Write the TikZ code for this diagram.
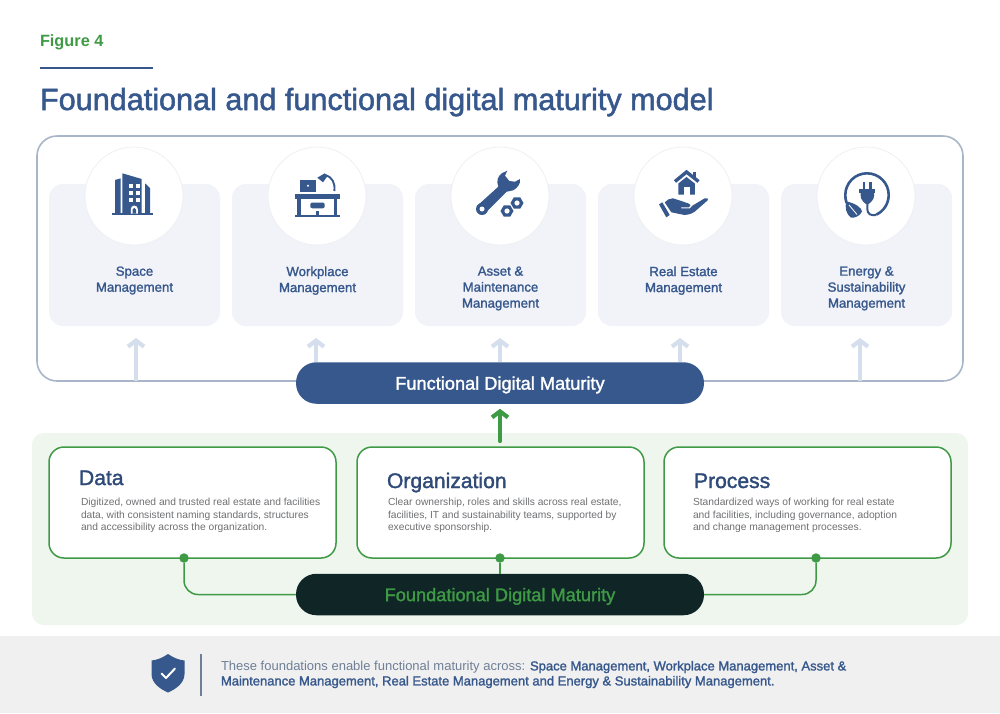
\documentclass[tikz,border=0pt]{standalone}
\usepackage{fontspec}
\setmainfont{Liberation Sans}
\newfontfamily\medfont[FakeBold=1.6]{Liberation Sans}
\usetikzlibrary{arrows.meta}
\definecolor{navy}{HTML}{37588C}
\definecolor{inktitle}{HTML}{2F4A78}
\definecolor{frameblue}{HTML}{A9B6C9}
\definecolor{cardbg}{HTML}{F2F3F9}
\definecolor{ringgray}{HTML}{EEF0F3}
\definecolor{arrowpale}{HTML}{D5DEEC}
\definecolor{leaf}{HTML}{3F9A45}
\definecolor{panelgreen}{HTML}{EEF6EE}
\definecolor{darkpill}{HTML}{0F2526}
\definecolor{bandgray}{HTML}{F0F0F1}
\definecolor{bodygray}{HTML}{6F7073}
\definecolor{notegray}{HTML}{6F7F96}
\tikzset{
  x=1pt,y=-1pt,
  every node/.style={inner sep=0pt,outer sep=0pt},
  cardbox/.style={rectangle,fill=cardbg,rounded corners=14pt,minimum width=171pt,minimum height=142pt},
  iconring/.style={circle,fill=white,draw=ringgray,line width=0.8pt,minimum size=98pt},
  cardlabel/.style={font=\fontsize{13.2}{16}\selectfont\medfont,text=navy,align=center,anchor=north},
  pillbox/.style={rectangle,rounded corners=20.5pt,minimum width=408pt,minimum height=41.5pt,text depth=0pt,font=\fontsize{18.2}{20}\selectfont\medfont},
  greenbox/.style={rectangle,draw=leaf,line width=1.5pt,fill=white,rounded corners=15pt,minimum width=287pt,minimum height=111pt},
  boxhead/.style={font=\fontsize{21.1}{24}\selectfont\medfont,text=inktitle,anchor=base west},
  boxbody/.style={font=\fontsize{10.25}{12.3}\selectfont,text=bodygray,align=left,anchor=north west},
  palearrow/.style={draw=arrowpale,line width=4.2pt,-{Straight Barb[length=6pt,width=16pt]}},
  greenarrow/.style={draw=leaf,line width=4.2pt,line cap=round,-{Straight Barb[length=6pt,width=16pt]}},
  wire/.style={draw=leaf,line width=1.5pt,rounded corners=14pt},
  greendot/.style={circle,fill=leaf,minimum size=9.5pt},
  icon/.style={fill=navy,draw=none},
  iconline/.style={draw=navy,fill=none}
}
\begin{document}
\begin{tikzpicture}
\useasboundingbox (0,0) rectangle (1000,713);
\fill[white] (0,0) rectangle (1000,713);
% header
\node[font=\fontsize{16.3}{19}\selectfont\bfseries,text=leaf,anchor=base west] (fig) at (40,46) {Figure 4};
\coordinate (ruleA) at (40,68);
\coordinate (ruleB) at (153,68);
\draw[navy,line width=1.6pt] (ruleA) -- (ruleB);
\node[font=\fontsize{30.6}{34}\selectfont\medfont,text=navy,anchor=base west] (title) at (40,110) {Foundational and functional digital maturity model};
% functional frame
\node[rectangle,draw=frameblue,line width=1.6pt,rounded corners=20pt,minimum width=926pt,minimum height=245pt] (outer) at (500,258.5) {};
\node[cardbox] (c1) at (134.5,255) {};
\node[cardbox] (c2) at (317.5,255) {};
\node[cardbox] (c3) at (500.5,255) {};
\node[cardbox] (c4) at (683.5,255) {};
\node[cardbox] (c5) at (866.5,255) {};
\node[iconring] (r1) at (134,196) {};
\node[iconring] (r2) at (317,196) {};
\node[iconring] (r3) at (500,196) {};
\node[iconring] (r4) at (683,196) {};
\node[iconring] (r5) at (866,196) {};
\node[cardlabel] (l1) at (134.5,266.5) {Space\\Management};
\node[cardlabel] (l2) at (317.5,266.5) {Workplace\\Management};
\node[cardlabel] (l3) at (500.5,266.5) {Asset \&\\Maintenance\\Management};
\node[cardlabel] (l4) at (683.5,266.5) {Real Estate\\Management};
\node[cardlabel] (l5) at (866.5,266.5) {Energy \&\\Sustainability\\Management};
% building icon
\fill[icon] (122.3,173.3) -- (141.7,179) -- (141.7,214) -- (122.3,214) -- cycle;
\fill[icon] (115,180) -- (120.7,178.3) -- (120.7,214) -- (115,214) -- cycle;
\fill[icon] (145,183.3) -- (150,188) -- (150,214) -- (145,214) -- cycle;
\fill[icon] (112.3,213) rectangle (153.3,214.8);
\foreach \py in {184.3,191,197.7} {
  \fill[white] (129,\py) rectangle (133.3,\py+4);
  \fill[white] (135.5,\py) rectangle (140,\py+4);
}
\fill[white] (130.8,213.5) -- (130.8,209) arc[start angle=180,end angle=360,x radius=3.5,y radius=3.5] -- (137.8,213.5) -- cycle;
\fill[icon] (132.6,213.5) -- (132.6,209.5) arc[start angle=180,end angle=360,x radius=1.7,y radius=1.7] -- (136,213.5) -- cycle;
% desk icon
\fill[icon] (294.7,194.3) rectangle (339.7,199);
\fill[icon] (297.3,199) rectangle (300.7,216);
\fill[icon] (334,199) rectangle (337.3,216);
\fill[icon] (294.7,215) rectangle (339.7,217.3);
\fill[icon,rounded corners=2pt] (310.3,202.5) rectangle (324.7,208.3);
\fill[icon] (316.3,211) rectangle (318.7,215.5);
\fill[icon] (299.7,180) rectangle (316.3,191.7);
\fill[white] (308,185.7) circle[radius=1.2];
\fill[icon] (317.3,177.7) -- (324.7,173.3) -- (327.5,176) -- (323,182.3) -- cycle;
\draw[iconline,line width=1.9pt] (325.5,175) .. controls (332,177) and (335.5,183) .. (334.3,191);
% wrench icon
\fill[icon] (507.3,170.7) -- (505,175.7) -- (509.3,181) -- (515,181.7) -- (520,179) .. controls (521,184) and (517,188) .. (513.3,190.3) -- (506.7,191.7) -- (485,213.3) -- (477.3,205.7) -- (498.3,186.7) .. controls (496,181) and (498,176) .. (501.7,173.3) -- cycle;
\fill[icon] (482,209) circle[radius=6];
\fill[white] (482,209) circle[radius=2.5];
\fill[icon] (513.5,211) -- (510.2,216.7) -- (503.8,216.7) -- (500.5,211) -- (503.8,205.3) -- (510.2,205.3) -- cycle;
\fill[white] (507,211) circle[radius=2.6];
\fill[icon] (523.5,203) -- (520.2,208.7) -- (513.8,208.7) -- (510.5,203) -- (513.8,197.3) -- (520.2,197.3) -- cycle;
\fill[white] (517,203) circle[radius=2.6];
% house and hand icon
\fill[icon] (692.5,172) rectangle (695.5,178);
\draw[iconline,line width=3.4pt,line join=miter] (675,181.5) -- (686.5,172) -- (698.5,181.5);
\fill[icon] (678.3,183.5) -- (686.5,177) -- (694.8,183.5) -- (694.8,194.5) -- (678.3,194.5) -- cycle;
\fill[white] (683.7,186.7) rectangle (689.7,194.5);
\fill[icon] (659,204.3) -- (662.3,202.3) -- (669.7,215) -- (666.3,217.3) -- cycle;
\fill[icon] (664.7,202.3) .. controls (667,200) and (670,198) .. (673,198.3) -- (681.3,201) -- (688,203.3) .. controls (691,204) and (691,207) .. (689,207.3) -- (681,207.3) -- (681,208.3) -- (690,208.3) -- (692.3,205.7) -- (704.7,198.3) .. controls (707,197.8) and (708.5,198.5) .. (708,200) -- (694.7,211.7) .. controls (691,214) and (688,215) .. (684.7,215) -- (671.3,212.3) -- cycle;
% plug icon
\draw[iconline,line width=2.6pt] (846.5,203) .. controls (845.6,200) and (845.3,197) .. (845.3,195) arc[start angle=180,end angle=425,radius=21.7];
\draw[iconline,line width=2pt] (867.3,203) -- (867.3,209) .. controls (867.3,214) and (871,216) .. (876,215);
\fill[icon] (862.7,181.7) rectangle (865.3,190);
\fill[icon] (869.3,181.7) rectangle (872,190);
\fill[icon] (859.3,189) rectangle (875.3,192.5);
\fill[icon] (860.5,192.5) -- (874.2,192.5) -- (874.2,195) .. controls (874.2,200) and (870,203) .. (868.5,204) -- (866,204) .. controls (864.5,203) and (860.5,200) .. (860.5,195) -- cycle;
\fill[icon] (846.5,201.5) .. controls (855,203) and (862,208) .. (862,211.5) .. controls (860,216) and (855,218) .. (851,217.7) .. controls (846,214) and (844.5,207) .. (846.5,201.5) -- cycle;
\draw[white,line width=0.8pt] (849,205) -- (857,214.5);
% arrows and functional pill
\coordinate (up1) at (136,338);
\coordinate (up2) at (316,338);
\coordinate (up3) at (500,338);
\coordinate (up4) at (680,338);
\coordinate (up5) at (860,338);
\node[pillbox,fill=navy,text=white] (fd) at (500,383) {Functional Digital Maturity};
\draw[palearrow] (up1 |- outer.south) -- (up1);
\draw[palearrow] (up2 |- fd.north) -- (up2);
\draw[palearrow] (up3 |- fd.north) -- (up3);
\draw[palearrow] (up4 |- fd.north) -- (up4);
\draw[palearrow] (up5 |- outer.south) -- (up5);
% foundational panel
\node[rectangle,fill=panelgreen,rounded corners=12pt,minimum width=936pt,minimum height=192pt] (panel) at (500,529) {};
\coordinate (gup) at (500,441);
\draw[greenarrow,shorten >=5pt] (gup) -- (fd.south);
\node[greenbox] (b1) at (192.5,502.5) {};
\node[greenbox] (b2) at (500.5,502.5) {};
\node[greenbox] (b3) at (807.5,502.5) {};
\node[boxhead] (h1) at (79,485) {Data};
\node[boxhead] (h2) at (387,488) {Organization};
\node[boxhead] (h3) at (694,488) {Process};
\node[boxbody] (t1) at (81,498.5) {Digitized, owned and trusted real estate and facilities\\data, with consistent naming standards, structures\\and accessibility across the organization.};
\node[boxbody] (t2) at (388,498.5) {Clear ownership, roles and skills across real estate,\\facilities, IT and sustainability teams, supported by\\executive sponsorship.};
\node[boxbody] (t3) at (693,498.5) {Standardized ways of working for real estate\\and facilities, including governance, adoption\\and change management processes.};
\node[pillbox,fill=darkpill,text=leaf] (fm) at (500,594.5) {Foundational Digital Maturity};
\node[greendot] (d1) at (184,558) {};
\node[greendot] (d2) at (500,558) {};
\node[greendot] (d3) at (816,558) {};
\draw[wire] (fm.west) -| (d1);
\draw[wire] (fm.north) -- (d2);
\draw[wire] (fm.east) -| (d3);
% footer
\fill[bandgray] (0,636) rectangle (1000,713);
\fill[icon] (168,654) .. controls (174,658) and (179,660) .. (184.5,660.5) -- (184.5,674) .. controls (184.5,683) and (176,689) .. (168,692.5) .. controls (160,689) and (151.5,683) .. (151.5,674) -- (151.5,660.5) .. controls (157,660) and (162,658) .. (168,654) -- cycle;
\draw[white,line width=2pt,line cap=round,line join=round] (161.5,673.5) -- (166,678) -- (175,668.5);
\coordinate (divA) at (201,654);
\coordinate (divB) at (201,696);
\draw[notegray,line width=1.2pt] (divA) -- (divB);
\node[font=\fontsize{13}{15}\selectfont,text=notegray,align=left,anchor=north west] (note) at (221,661) {These foundations enable functional maturity across: \textcolor{navy}{\medfont Space Management, Workplace Management, Asset \&}\\\textcolor{navy}{\medfont Maintenance Management, Real Estate Management and Energy \& Sustainability Management.}};
\end{tikzpicture}
\end{document}
